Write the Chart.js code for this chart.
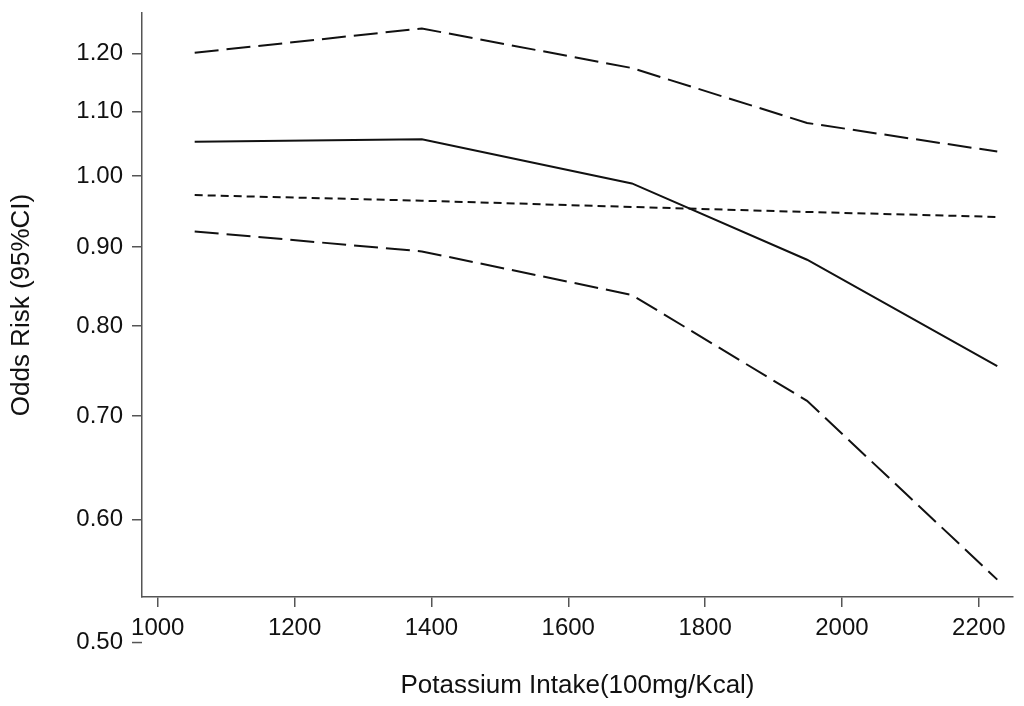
<!DOCTYPE html>
<html>
<head>
<meta charset="utf-8">
<script src="https://cdn.jsdelivr.net/npm/chart.js@4.4.1/dist/chart.umd.min.js"></script>
<style>
  html, body { margin: 0; padding: 0; background: #fff; }
</style>
</head>
<body>
<canvas id="myChart" width="1024" height="706"></canvas>
<script>
const X_TITLE = 'Potassium Intake(100mg/Kcal)';
const Y_TITLE = 'Odds Risk (95%CI)';

// intake points (x)
const intake = [1054, 1386, 1693, 1949, 2227];
const estimate = [1.052, 1.056, 0.989, 0.883, 0.754];
const upperCI = [1.201, 1.245, 1.174, 1.082, 1.037];
const lowerCI = [0.921, 0.894, 0.838, 0.716, 0.549];
const reference = [0.972, 0.964, 0.955, 0.948, 0.941];

const xTicks = [1000, 1200, 1400, 1600, 1800, 2000, 2200];
const yTicks = [0.50, 0.60, 0.70, 0.80, 0.90, 1.00, 1.10, 1.20];

const FONT = "'Liberation Sans', Arial, sans-serif";
const INK = '#111';
const AXIS = '#555';
const Y_MIN = 0.535;

function pts(ys) {
  return intake.map((x, i) => ({x: x, y: ys[i]}));
}

function line(label, ys, dash) {
  return {
    label: label,
    data: pts(ys),
    borderColor: INK,
    borderWidth: 2,
    borderDash: dash,
    pointRadius: 0,
    tension: 0,
    fill: false
  };
}

// ticks that fall below the plot floor (0.50) are drawn by hand from the scale
const lowTicks = {
  id: 'lowTicks',
  afterDraw(chart) {
    const ys = chart.scales.y;
    const ctx = chart.ctx;
    ctx.save();
    ctx.strokeStyle = AXIS;
    ctx.lineWidth = 1.5;
    ctx.fillStyle = INK;
    ctx.font = '24px ' + FONT;
    ctx.textAlign = 'right';
    ctx.textBaseline = 'middle';
    yTicks.filter(v => v < Y_MIN).forEach(v => {
      const py = ys.getPixelForValue(v);
      ctx.beginPath();
      ctx.moveTo(ys.right - 10, py);
      ctx.lineTo(ys.right, py);
      ctx.stroke();
      ctx.fillText(v.toFixed(2), ys.right - 19, py);
    });
    ctx.restore();
  }
};

const config = {
  type: 'line',
  data: {
    datasets: [
      line('Upper CI', upperCI, [24, 8]),
      line('Estimate', estimate, []),
      line('Reference', reference, [8, 5]),
      line('Lower CI', lowerCI, [24, 8])
    ]
  },
  options: {
    responsive: false,
    animation: false,
    layout: {padding: {left: 0, top: 13, right: 11, bottom: 0}},
    plugins: {
      legend: {display: false},
      tooltip: {enabled: false}
    },
    scales: {
      x: {
        type: 'linear',
        min: 977,
        max: 2250,
        afterBuildTicks: (s) => { s.ticks = xTicks.map(v => ({value: v})); },
        afterFit: (s) => { s.height = 109; s.paddingLeft = 0; s.paddingRight = 0; },
        grid: {drawOnChartArea: false, drawTicks: true, tickLength: 10, color: AXIS, lineWidth: 1.5},
        border: {display: true, color: AXIS, width: 1.5},
        ticks: {color: INK, font: {family: FONT, size: 24}, padding: 7, maxRotation: 0,
          callback: (v) => String(v)},
        title: {display: true, text: X_TITLE, color: INK, font: {family: FONT, size: 26},
          padding: {top: 0, bottom: 5}}
      },
      y: {
        type: 'logarithmic',
        min: Y_MIN,
        max: 1.274,
        afterBuildTicks: (s) => { s.ticks = yTicks.filter(v => v >= Y_MIN).map(v => ({value: v})); },
        afterFit: (s) => { s.width = 142; s.paddingTop = 0; s.paddingBottom = 0; },
        grid: {drawOnChartArea: false, drawTicks: true, tickLength: 10, color: AXIS, lineWidth: 1.5},
        border: {display: true, color: AXIS, width: 1.5},
        ticks: {color: INK, font: {family: FONT, size: 24}, padding: 9,
          callback: (v) => Number(v).toFixed(2)},
        title: {display: true, text: Y_TITLE, color: INK, font: {family: FONT, size: 26},
          padding: {top: 6, bottom: 0}}
      }
    }
  },
  plugins: [lowTicks]
};

const myChart = new Chart(document.getElementById('myChart'), config);
</script>
</body>
</html>
